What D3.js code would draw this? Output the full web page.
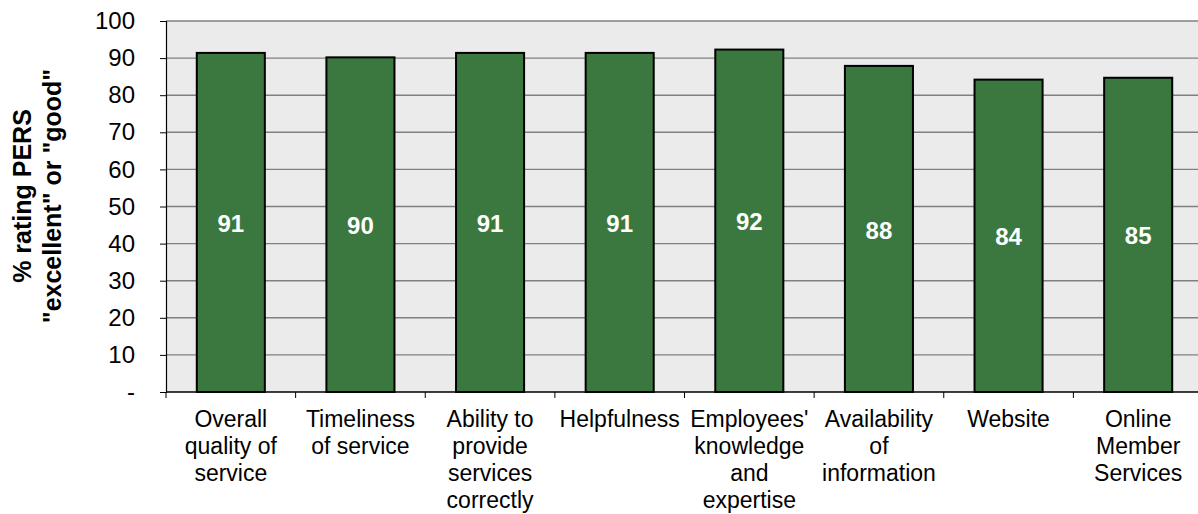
<!DOCTYPE html>
<html>
<head>
<meta charset="utf-8">
<script src="https://cdn.jsdelivr.net/npm/d3@7/dist/d3.min.js"></script>
<style>
  html, body { margin: 0; padding: 0; background: #fff; }
  svg { display: block; font-family: Arial, "Liberation Sans", sans-serif; }
</style>
</head>
<body>
<div id="chart"></div>
<script>
const categories = [
  "Overall quality of service",
  "Timeliness of service",
  "Ability to provide services correctly",
  "Helpfulness",
  "Employees' knowledge and expertise",
  "Availability of information",
  "Website",
  "Online Member Services"
];
// wrapped tick labels, as shown under each bar
const categoryLines = [
  ["Overall", "quality of", "service"],
  ["Timeliness", "of service"],
  ["Ability to", "provide", "services", "correctly"],
  ["Helpfulness"],
  ["Employees'", "knowledge", "and", "expertise"],
  ["Availability", "of", "information"],
  ["Website"],
  ["Online", "Member", "Services"]
];
const values = [91.4, 90.2, 91.4, 91.4, 92.3, 87.9, 84.2, 84.7];
const valueLabels = ["91", "90", "91", "91", "92", "88", "84", "85"];
const yTicks = [0, 10, 20, 30, 40, 50, 60, 70, 80, 90, 100];
const yTitle = ["% rating PERS", "\"excellent\" or \"good\""];

const W = 1198, H = 514;
// plot runs a little past the right edge, like the original
const margin = { top: 21, right: -5, bottom: 122, left: 166 };
const innerW = W - margin.left - margin.right;
const innerH = H - margin.top - margin.bottom;

const x = d3.scaleBand().domain(categories).range([0, innerW])
  .paddingInner(0.475).paddingOuter(0.2375);
const y = d3.scaleLinear().domain([0, 100]).range([innerH, 0]);
const gap = x.step() - x.bandwidth();

const svg = d3.select('#chart').append('svg')
  .attr('width', W).attr('height', H);

const g = svg.append('g').attr('transform', `translate(${margin.left},${margin.top})`);

// plot background
g.append('rect').attr('x', 0).attr('y', 0)
  .attr('width', innerW).attr('height', innerH).attr('fill', '#ebebeb');

// gridlines
g.append('g').selectAll('line').data(yTicks.filter(d => d > 0)).join('line')
  .attr('x1', 0).attr('x2', innerW)
  .attr('y1', d => y(d)).attr('y2', d => y(d))
  .attr('stroke', '#808080').attr('stroke-width', 1.4);

// bars
g.append('g').selectAll('rect').data(values).join('rect')
  .attr('x', (d, i) => x(categories[i]))
  .attr('y', d => y(d))
  .attr('width', x.bandwidth())
  .attr('height', d => y(0) - y(d))
  .attr('fill', '#3a7840')
  .attr('stroke', '#000').attr('stroke-width', 2);

// value labels, centred in each bar
g.append('g').selectAll('text').data(values).join('text')
  .attr('x', (d, i) => x(categories[i]) + x.bandwidth() / 2)
  .attr('y', d => (y(d) + y(0)) / 2)
  .attr('dy', '0.4em')
  .attr('text-anchor', 'middle')
  .attr('fill', '#fff').attr('font-weight', 'bold').attr('font-size', 24)
  .text((d, i) => valueLabels[i]);

// y axis
const yAxisG = g.append('g')
  .call(d3.axisLeft(y).tickValues(yTicks).tickSize(6).tickPadding(25)
    .tickFormat(d => d === 0 ? '-' : d));
yAxisG.select('.domain').attr('stroke', '#000').attr('stroke-width', 1.2);
yAxisG.selectAll('line').attr('stroke', '#000');
yAxisG.selectAll('text').attr('fill', '#000').attr('font-size', 24)
  .attr('font-family', 'Arial, "Liberation Sans", sans-serif');

// x axis line and ticks between categories
g.append('line').attr('x1', 0).attr('x2', innerW)
  .attr('y1', innerH).attr('y2', innerH)
  .attr('stroke', '#000').attr('stroke-width', 1.4);
g.append('g').selectAll('line').data(categories).join('line')
  .attr('x1', d => x(d) - gap / 2)
  .attr('x2', d => x(d) - gap / 2)
  .attr('y1', innerH).attr('y2', innerH + 6)
  .attr('stroke', '#000');

// category labels
const catG = g.append('g').selectAll('text').data(categories).join('text')
  .attr('x', d => x(d) + x.bandwidth() / 2)
  .attr('y', innerH + 35)
  .attr('text-anchor', 'middle')
  .attr('font-size', 23).attr('fill', '#000');
catG.selectAll('tspan').data((d, i) => categoryLines[i]).join('tspan')
  .attr('x', function () { return d3.select(this.parentNode).attr('x'); })
  .attr('dy', (d, i) => i === 0 ? 0 : 27)
  .text(d => d);

// y title
svg.append('text')
  .attr('transform', 'translate(0,196) rotate(-90)')
  .attr('text-anchor', 'middle')
  .attr('font-weight', 'bold').attr('font-size', 25).attr('fill', '#000')
  .selectAll('tspan').data(yTitle).join('tspan')
  .attr('x', 0).attr('y', (d, i) => 31 + i * 30)
  .text(d => d);
</script>
</body>
</html>
